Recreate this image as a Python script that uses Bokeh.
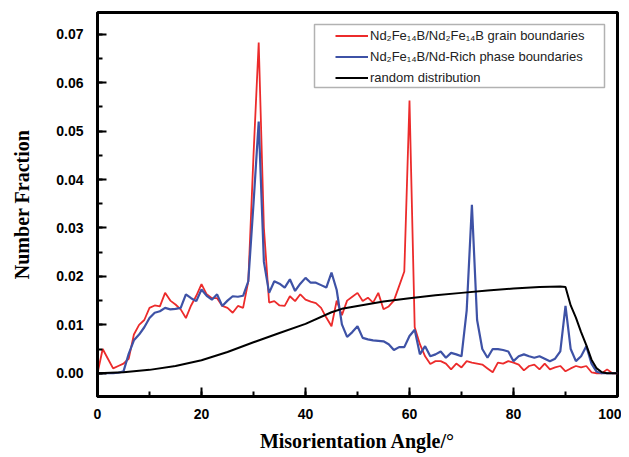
from bokeh.plotting import figure
from bokeh.models import (Range1d, SingleIntervalTicker, PrintfTickFormatter, Legend,
                          LegendItem, BoxAnnotation)
from bokeh.embed import file_html
from bokeh.resources import INLINE

# Misorientation angle (degrees), 1-degree bins
angle = list(range(0, 101))

# Nd2Fe14B/Nd2Fe14B grain boundaries
grain = [0.000, 0.005, 0.003, 0.001, 0.0015, 0.002, 0.003, 0.008, 0.010, 0.011,
         0.0135, 0.014, 0.0138, 0.0166, 0.0150, 0.0142, 0.0132, 0.0114, 0.0140, 0.0160,
         0.0184, 0.0163, 0.0155, 0.0155, 0.0139, 0.0135, 0.0125, 0.0139, 0.0135, 0.0190,
         0.0450, 0.0683, 0.0300, 0.0146, 0.0149, 0.0140, 0.0139, 0.0159, 0.0149, 0.0163,
         0.0152, 0.0148, 0.0145, 0.0135, 0.0115, 0.0097, 0.0150, 0.0120, 0.0150, 0.0158,
         0.0166, 0.0149, 0.0156, 0.0146, 0.0166, 0.0132, 0.0138, 0.0150, 0.0180, 0.0210,
         0.0563, 0.0095, 0.0060, 0.0035, 0.0019, 0.0025, 0.0025, 0.0020, 0.0008, 0.0020,
         0.0012, 0.0025, 0.0022, 0.0020, 0.0018, 0.0010, 0.0002, 0.0022, 0.0020, 0.0025,
         0.0022, 0.0018, 0.0006, 0.0015, 0.0018, 0.0008, 0.0020, 0.0008, 0.0012, 0.0015,
         0.0004, 0.0010, 0.0015, 0.0012, 0.0015, 0.0002, 0.0000, 0.0000, 0.0008, 0.0000,
         0.0000]

# Nd2Fe14B/Nd-Rich phase boundaries
phase = [0.0, 0.0, 0.0, 0.0, 0.0001, 0.0004, 0.0040, 0.0068, 0.0080, 0.0095,
         0.0114, 0.0125, 0.0128, 0.0135, 0.0132, 0.0133, 0.0135, 0.0163, 0.0155, 0.0149,
         0.0173, 0.0160, 0.0152, 0.0163, 0.0139, 0.0150, 0.0159, 0.0158, 0.0160, 0.0190,
         0.0350, 0.0520, 0.0230, 0.0166, 0.0190, 0.0185, 0.0177, 0.0194, 0.0170, 0.0185,
         0.0197, 0.0187, 0.0187, 0.0182, 0.0177, 0.0208, 0.0172, 0.0101, 0.0075, 0.0085,
         0.0097, 0.0073, 0.0070, 0.0068, 0.0067, 0.0066, 0.0060, 0.0048, 0.0054, 0.0054,
         0.0077, 0.0090, 0.0039, 0.0056, 0.0035, 0.0039, 0.0045, 0.0032, 0.0042, 0.0039,
         0.0035, 0.0130, 0.0348, 0.0110, 0.0050, 0.0032, 0.0050, 0.0050, 0.0048, 0.0045,
         0.0025, 0.0035, 0.0039, 0.0035, 0.0032, 0.0035, 0.0030, 0.0025, 0.0030, 0.0045,
         0.0139, 0.0050, 0.0025, 0.0035, 0.0056, 0.0020, 0.0003, 0.0, 0.0, 0.0,
         0.0]

# Random distribution (sampled points)
rand_angle = [0, 5, 10, 15, 20, 25, 30, 35, 40, 45, 47, 50, 55, 60, 65, 70, 75, 80, 85, 89,
              90, 91, 92, 93, 94, 95, 96, 97, 98, 100]
rand_frac = [0.0, 0.0002, 0.0007, 0.0015, 0.0027, 0.0044, 0.0064, 0.0083, 0.0102, 0.0126,
             0.0133, 0.0139, 0.0148, 0.0155, 0.0161, 0.0166, 0.0171, 0.0175, 0.0178, 0.0179,
             0.0178, 0.0140, 0.0115, 0.0085, 0.0058, 0.0028, 0.0010, 0.0002, 0.0, 0.0]

labels = ["Nd\u2082Fe\u2081\u2084B/Nd\u2082Fe\u2081\u2084B grain boundaries",
          "Nd\u2082Fe\u2081\u2084B/Nd-Rich phase boundaries",
          "random distribution"]

p = figure(frame_width=520, frame_height=384, output_backend="svg", toolbar_location=None,
           x_range=Range1d(0, 100), y_range=Range1d(-0.0048, 0.0745),
           min_border_left=97, min_border_right=4, min_border_top=12, min_border_bottom=53,
           background_fill_color="white", border_fill_color="white")

r_red = p.line(angle, grain, line_color="#EC2B2B", line_width=1.8)
r_blue = p.line(angle, phase, line_color="#3E52A6", line_width=2.2)
r_black = p.line(rand_angle, rand_frac, line_color="black", line_width=2)

p.xgrid.visible = False
p.ygrid.visible = False
p.outline_line_color = "black"
p.outline_line_width = 3

p.xaxis.ticker = SingleIntervalTicker(interval=20, num_minor_ticks=2)
p.yaxis.ticker = SingleIntervalTicker(interval=0.01, num_minor_ticks=2)
p.yaxis.formatter = PrintfTickFormatter(format="%.2f")

for ax in (p.xaxis[0], p.yaxis[0]):
    ax.axis_line_width = 3
    ax.axis_line_color = "black"
    ax.major_tick_in = 9
    ax.major_tick_out = 0
    ax.minor_tick_in = 5
    ax.minor_tick_out = 0
    ax.major_tick_line_width = 2
    ax.minor_tick_line_width = 2
    ax.major_tick_line_color = "black"
    ax.minor_tick_line_color = "black"
    ax.major_label_text_font = "Liberation Sans"
    ax.major_label_text_font_style = "bold"
    ax.major_label_text_font_size = "14px"
    ax.major_label_text_color = "black"
    ax.axis_label_text_font = "Liberation Serif"
    ax.axis_label_text_font_style = "bold"
    ax.axis_label_text_font_size = "20px"
    ax.axis_label_text_color = "black"

p.xaxis.axis_label = "Misorientation Angle/\u00b0"
p.yaxis.axis_label = "Number Fraction"
p.xaxis.major_label_standoff = 12
p.yaxis.major_label_standoff = 14
p.xaxis.axis_label_standoff = 8
p.yaxis.axis_label_standoff = 20

# legend frame (drawn separately to get wide horizontal padding)
legend_box = BoxAnnotation(left=314, right=604, top=24, bottom=87,
                           left_units="canvas", right_units="canvas",
                           top_units="canvas", bottom_units="canvas",
                           fill_color="white", fill_alpha=1.0,
                           line_color="black", line_width=1.5)
p.add_layout(legend_box)

legend = Legend(items=[LegendItem(label=labels[0], renderers=[r_red]),
                       LegendItem(label=labels[1], renderers=[r_blue]),
                       LegendItem(label=labels[2], renderers=[r_black])],
                location=(236, 308))
legend.label_text_font = "Liberation Sans"
legend.label_text_font_size = "13px"
legend.label_text_color = "#222222"
legend.glyph_width = 33
legend.glyph_height = 17
legend.label_height = 17
legend.label_standoff = 2
legend.spacing = 4
legend.padding = 2
legend.margin = 0
legend.border_line_alpha = 0
legend.background_fill_alpha = 0
p.add_layout(legend)

open("out.html", "w").write(file_html(p, INLINE))
